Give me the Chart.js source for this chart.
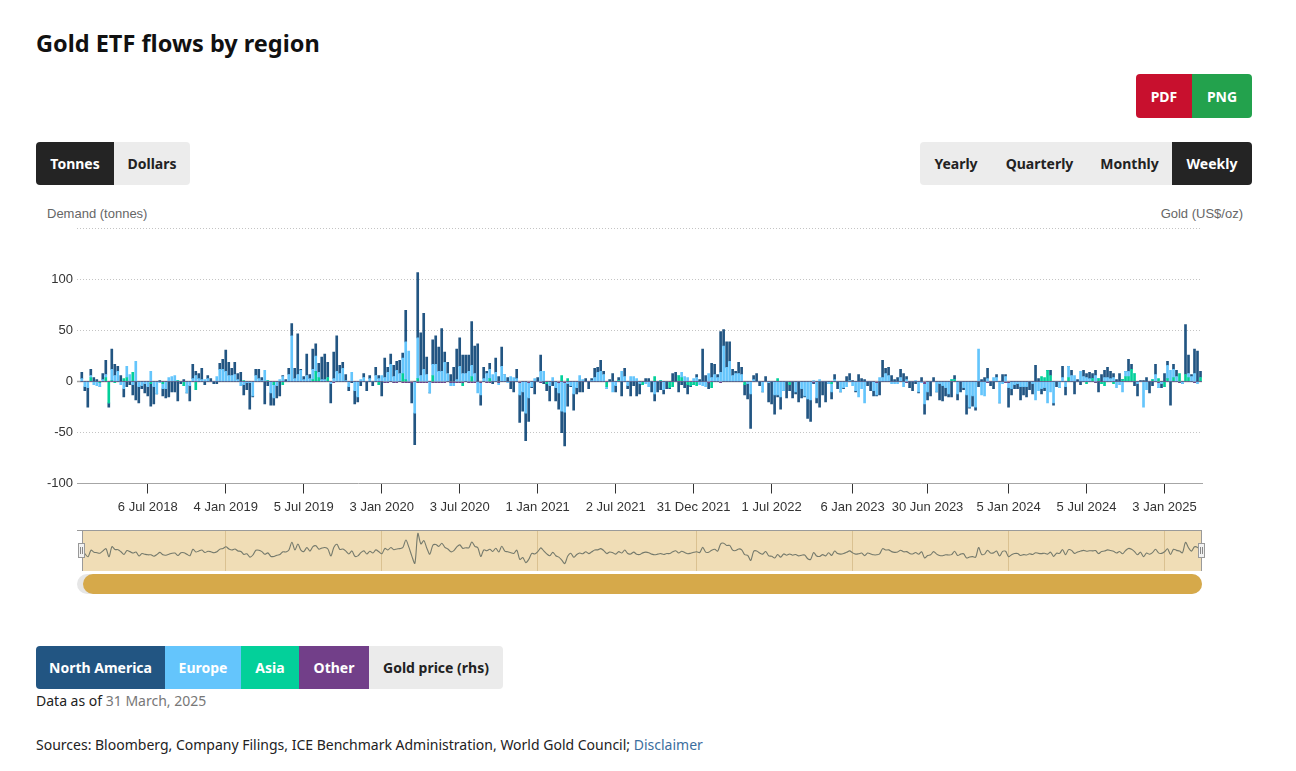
<!DOCTYPE html>
<html>
<head>
<meta charset="utf-8">
<script src="https://cdn.jsdelivr.net/npm/chart.js@4.4.1/dist/chart.umd.min.js"></script>
<style>
  body { margin:0; background:#fff; font-family:"Noto Sans", sans-serif; color:#222; }
  #page { position:relative; width:1296px; height:771px; overflow:hidden; }
  h1 { position:absolute; left:36px; top:26px; margin:0; font-size:23.5px; font-weight:700; color:#111; line-height:34px; }
  .btn { position:absolute; display:flex; align-items:center; justify-content:center; font-size:14px; font-weight:700; box-sizing:border-box; }
  .axt { position:absolute; font-family:"Liberation Sans", Arial, sans-serif; font-size:13px; color:#666; line-height:16px; }
  .txt { position:absolute; font-size:14px; line-height:20px; color:#222; }
  #mainWrap { position:absolute; left:36px; top:217px; width:1216px; height:303px; }
  #navWrap { position:absolute; left:82px; top:531px; width:1120px; height:40px; background:#f0ddb6; }
  #navLine { position:absolute; left:77px; top:530px; width:1125px; height:1px; background:#9a9a9a; }
  #navR { position:absolute; left:1201px; top:530px; width:1px; height:41px; background:#9a9a9a; }
  #navL { position:absolute; left:82px; top:530px; width:1px; height:41px; background:#9a9a9a; }
  .handle { position:absolute; top:543px; width:7px; height:15px; background:#f2f2f2; border:1px solid #999; box-sizing:border-box; }
  .handle::before, .handle::after { content:""; position:absolute; top:3px; width:1px; height:7px; background:#888; }
  .handle::before { left:1px; } .handle::after { left:3px; }
  #track { position:absolute; left:77px; top:574px; width:1125px; height:20px; background:#e6e6e6; border-radius:10px; }
  #thumb { position:absolute; left:83px; top:574px; width:1119px; height:20px; background:#d6a94a; border-radius:10px; }
</style>
</head>
<body>
<div id="page">
  <h1>Gold ETF flows by region</h1>

  <div class="btn" style="left:1136px;top:74px;width:56px;height:44px;background:#c8102e;color:#fff;border-radius:4px 0 0 4px;">PDF</div>
  <div class="btn" style="left:1192px;top:74px;width:60px;height:44px;background:#23a24d;color:#fff;border-radius:0 4px 4px 0;">PNG</div>

  <div class="btn" style="left:36px;top:142px;width:78px;height:43px;background:#242424;color:#fff;border-radius:4px 0 0 4px;">Tonnes</div>
  <div class="btn" style="left:114px;top:142px;width:76px;height:43px;background:#ececec;color:#222;border-radius:0 4px 4px 0;">Dollars</div>

  <div class="btn" style="left:920px;top:142px;width:72px;height:43px;background:#ececec;color:#222;border-radius:4px 0 0 4px;">Yearly</div>
  <div class="btn" style="left:992px;top:142px;width:95px;height:43px;background:#ececec;color:#222;">Quarterly</div>
  <div class="btn" style="left:1087px;top:142px;width:85px;height:43px;background:#ececec;color:#222;">Monthly</div>
  <div class="btn" style="left:1172px;top:142px;width:80px;height:43px;background:#242424;color:#fff;border-radius:0 4px 4px 0;">Weekly</div>

  <div class="axt" style="left:47px;top:206px;">Demand (tonnes)</div>
  <div class="axt" style="right:53px;top:206px;">Gold (US$/oz)</div>

  <div id="mainWrap"><canvas id="main"></canvas></div>

  <div id="navWrap"><canvas id="nav"></canvas></div>
  <div id="navLine"></div><div id="navL"></div><div id="navR"></div>
  <div class="handle" style="left:78px;"></div>
  <div class="handle" style="left:1198px;"></div>
  <div id="track"></div>
  <div id="thumb"></div>

  <div class="btn" style="left:36px;top:646px;width:129px;height:43px;background:#225582;color:#fff;border-radius:4px 0 0 4px;">North America</div>
  <div class="btn" style="left:165px;top:646px;width:76px;height:43px;background:#64c5fc;color:#fff;">Europe</div>
  <div class="btn" style="left:241px;top:646px;width:58px;height:43px;background:#03d09a;color:#fff;">Asia</div>
  <div class="btn" style="left:299px;top:646px;width:70px;height:43px;background:#723f89;color:#fff;">Other</div>
  <div class="btn" style="left:369px;top:646px;width:134px;height:43px;background:#ebebeb;color:#222;border-radius:0 4px 4px 0;">Gold price (rhs)</div>

  <div class="txt" style="left:36px;top:691px;">Data as of <span style="color:#777;">31 March, 2025</span></div>
  <div class="txt" style="left:36px;top:735px;">Sources: Bloomberg, Company Filings, ICE Benchmark Administration, World Gold Council; <span style="color:#3b6e9e;">Disclaimer</span></div>
</div>

<script>
// ---- Data (weekly ETF flows, tonnes), week 0 = 2 Feb 2018, last = 28 Mar 2025 ----
const START_DATE = '2018-02-02';

const northAmerica = [
  6,-4,-19,6,4,2,0,6,14,-4,
  20,11,5,6,-8,-5,-3,-10,-18,-16,
  -3,-9,-9,-22,-17,0,1,-7,-9,-15,
  -10,-10,-19,-2,2,0,-15,14,4,5,
  11,-3,3,3,-2,-2,6,10,21,13,
  7,12,6,9,-10,-7,-26,-1,6,9,
  3,-22,-4,-12,-7,-12,-14,1,2,6,
  12,10,40,1,3,21,4,20,12,9,
  22,25,15,-19,26,35,8,6,6,-4,
  -1,-13,-5,-4,4,-9,3,-4,8,3,
  -14,19,5,10,11,9,13,5,31,0,
  -20,-31,64,42,55,17,0,24,28,24,
  42,10,11,7,14,30,28,18,18,16,
  43,27,37,-10,11,2,6,-2,14,5,
  19,0,4,-7,-10,9,-27,-19,-27,-23,
  -1,-12,4,16,-2,-7,-15,-4,-13,-16,
  -21,-33,-22,-1,-16,-6,-10,-10,3,-7,
  2,9,5,11,3,0,2,8,-6,3,
  -14,8,-3,-14,-4,-14,-10,0,3,3,
  -10,-7,-10,-8,-4,-7,-1,8,9,-10,
  -3,-6,-9,-1,0,3,2,32,6,-6,
  14,10,3,40,16,25,19,6,2,11,
  7,-10,-15,-34,4,8,-4,0,5,-19,
  -22,-19,-2,-12,0,-16,-6,-16,-2,-20,
  -9,-1,-19,-21,-1,-5,-25,-13,-20,0,
  -7,5,-7,0,-1,5,7,1,-1,7,
  3,2,-4,-9,-5,-1,-13,17,5,8,
  6,2,4,8,8,3,-6,-9,-2,-1,
  4,-10,-8,-14,4,0,-16,-15,-8,-3,
  -15,4,-6,-10,-2,-19,-1,-10,-3,-5,
  2,4,10,-4,-7,3,0,7,2,-19,
  -6,-4,-5,-13,-8,-10,-8,-10,16,3,
  -5,-3,0,5,-2,-5,0,11,-8,0,
  5,-12,2,-3,6,4,6,5,5,-10,
  7,7,10,7,4,2,8,0,0,12,
  5,-4,-12,1,1,4,-11,-4,10,0,
  -4,8,4,-23,5,6,0,0,49,18,
  2,24,30,6
];

const europe = [
  3,-5,-6,2,-3,-4,-4,2,3,0,
  11,6,10,-3,-7,11,7,-3,20,-5,
  -4,-2,-5,10,-5,-12,-1,-5,-7,4,
  5,6,0,0,0,-11,-4,3,6,3,
  2,2,3,0,0,5,12,12,10,6,
  6,7,2,-4,-3,-1,-1,-14,6,3,
  1,11,0,-11,-13,-4,2,5,0,7,
  45,3,7,11,2,6,3,10,15,5,
  2,2,0,-2,3,10,8,13,1,-5,
  9,-9,-15,2,4,0,3,0,6,3,
  6,4,9,17,5,11,8,15,37,30,
  0,-31,40,6,12,7,-11,11,17,10,
  10,19,8,-3,-3,2,15,8,8,10,
  11,8,-11,-12,3,8,9,7,9,-2,
  15,7,-1,5,4,3,-12,-10,-31,-15,
  -5,3,0,10,10,0,-4,4,-6,-10,
  -29,-29,-2,-4,-12,-6,6,2,0,0,
  1,4,9,10,7,-2,0,-10,-4,0,
  10,5,-4,5,5,3,-2,0,-2,-5,
  0,-12,0,0,-8,0,0,0,0,0,
  5,5,4,0,3,4,-3,-4,-5,8,
  4,7,4,9,35,14,20,6,8,8,
  7,0,-2,-12,2,0,0,-10,0,-1,
  0,-13,-13,-15,-9,0,0,0,-10,0,
  -7,-14,-17,-18,1,-16,2,0,0,-2,
  -8,2,0,-10,-6,-5,1,-4,-9,-15,
  -7,-21,0,0,-9,-12,4,4,8,6,
  -2,-2,-2,4,-5,2,0,0,1,-10,
  -1,-20,-10,0,0,-10,-2,-4,-6,-12,
  0,0,-12,0,-6,-13,-25,-14,-25,32,
  -13,-14,3,0,4,4,-21,-2,5,-5,
  -7,-3,-2,-5,-5,-5,0,-2,-18,-9,
  -7,-6,-21,-10,-21,0,-6,4,-5,11,
  6,6,0,10,5,4,3,0,6,0,
  0,4,4,3,4,-6,-3,-10,5,5,
  0,0,-2,0,-25,-8,0,0,7,-5,
  -2,0,13,11,8,5,0,-2,0,4,
  5,8,-2,0
];

const asia = [
  0,0,0,4,0,0,-1,0,4,-21,
  1,-1,0,0,3,4,0,9,0,0,
  0,0,0,-2,0,0,0,-2,0,0,
  0,0,1,0,-4,0,0,0,-8,0,
  0,0,0,0,0,0,0,0,0,0,
  0,0,0,0,1,0,0,0,0,0,
  0,0,1,0,-3,0,0,-3,0,0,
  0,0,0,0,0,0,0,2,10,4,
  0,0,4,0,0,0,0,0,0,0,
  0,0,0,0,0,0,0,0,0,-3,
  0,0,0,0,0,0,0,8,2,0,
  0,0,3,0,0,0,0,6,0,0,
  0,0,0,0,0,0,0,-3,0,0,
  5,0,0,0,0,0,3,0,0,0,
  0,0,0,0,0,0,0,0,0,0,
  0,0,0,0,0,-2,0,0,0,0,
  6,0,3,0,0,0,0,0,0,0,
  0,0,0,0,0,-5,0,0,0,1,
  0,0,0,0,0,0,0,-3,0,0,
  0,5,0,1,0,0,-6,-5,0,6,
  4,0,-3,-4,-3,-4,0,0,0,0,
  -6,0,0,0,0,0,0,0,0,0,
  0,-3,0,0,0,0,0,0,0,0,
  0,0,3,0,0,0,-3,0,0,0,
  0,0,0,0,0,0,0,0,0,0,
  -2,0,0,0,0,0,0,0,0,0,
  0,0,0,0,0,0,0,0,0,0,
  0,0,0,0,0,0,0,0,0,0,
  0,0,0,0,0,0,0,0,0,0,
  2,2,0,0,0,0,0,0,0,0,
  0,0,0,0,0,0,0,0,0,0,
  0,0,0,0,0,0,0,0,0,0,
  5,4,11,6,0,0,0,0,0,4,
  0,0,0,0,0,-2,0,3,0,3,
  -2,-4,0,0,-2,0,0,2,5,5,
  12,8,0,0,0,0,0,2,0,3,
  0,-5,3,0,4,0,8,0,7,4,
  0,0,0,4
];

const other = [
  0,0,0,0,0,0,0,0,0,0,
  0,0,0,0,0,0,0,0,0,0,
  0,0,0,0,0,0,0,0,0,0,
  0,0,0,0,0,0,0,0,0,0,
  0,0,0,0,0,0,0,0,0,0,
  0,0,0,0,0,0,0,0,0,0,
  0,0,0,0,0,0,0,0,0,0,
  0,0,0,0,0,0,0,0,0,0,
  0,0,0,0,-1,0,0,0,0,0,
  0,0,0,0,0,0,0,0,0,0,
  0,-1,-1,0,-1,-1,0,-1,-1,-1,
  -1,0,-1,-1,-1,-1,0,-1,-1,-1,
  -1,-1,0,-1,-1,-1,-1,-1,0,-1,
  -1,-1,0,-1,0,-1,-1,0,0,-1,
  0,0,0,0,0,0,-1,0,0,-1,
  0,0,0,-1,0,0,0,0,0,-1,
  0,-1,0,0,0,0,0,0,0,0,
  0,0,0,0,0,0,0,0,0,0,
  0,0,0,0,0,0,0,0,0,0,
  0,0,0,0,0,0,0,0,0,0,
  0,0,0,0,0,0,0,0,0,-1,
  0,0,0,-1,0,0,0,0,0,0,
  0,0,0,0,0,0,0,0,0,0,
  0,0,0,0,0,0,0,0,0,0,
  0,0,0,0,-1,0,0,0,0,0,
  0,0,0,0,0,0,0,0,0,0,
  0,0,0,0,0,-1,0,0,0,0,
  0,0,0,0,0,-1,0,0,0,0,
  0,-2,0,0,0,0,0,0,0,0,
  0,0,0,0,0,0,0,0,0,0,
  0,0,-1,0,0,0,0,0,-1,-1,
  0,0,0,0,0,0,0,0,0,0,
  0,0,0,0,0,0,0,0,0,0,
  0,0,0,0,0,0,0,0,-1,0,
  0,0,0,0,0,0,0,0,0,0,
  0,0,0,0,0,0,0,0,0,-1,
  0,0,0,0,0,0,-1,0,0,0,
  0,-1,0,0
];

// x-axis tick labels and the week index each one sits on
const xTickLabels = ['6 Jul 2018','4 Jan 2019','5 Jul 2019','3 Jan 2020','3 Jul 2020','1 Jan 2021','2 Jul 2021',
  '31 Dec 2021','1 Jul 2022','6 Jan 2023','30 Jun 2023','5 Jan 2024','5 Jul 2024','3 Jan 2025'];
const xTickWeeks = [22,48,74,100,126,152,178,204,230,257,282,309,335,361];
const yTicks = [-100,-50,0,50,100];
const navYearWeeks = [48,100,152,205,257,309,361];

// week categories
const weeks = northAmerica.map((_, i) => {
  const d = new Date(START_DATE + 'T00:00:00Z');
  d.setUTCDate(d.getUTCDate() + 7 * i);
  return d.toISOString().slice(0, 10);
});

const COLORS = { na:'#225582', eu:'#64c5fc', as:'#03d09a', ot:'#723f89' };
const pts = arr => arr.map((v, i) => ({ x: i, y: v }));

Chart.defaults.font.family = '"Liberation Sans", Arial, sans-serif';
Chart.defaults.font.size = 13;
Chart.defaults.color = '#333';

const zeroLine = {
  id: 'zeroLine',
  beforeDatasetsDraw(chart) {
    const { ctx, chartArea: a, scales: { y } } = chart;
    const py = y.getPixelForValue(0);
    ctx.save();
    ctx.strokeStyle = '#a3a3a3';
    ctx.lineWidth = 1.5;
    ctx.beginPath(); ctx.moveTo(a.left, py); ctx.lineTo(a.right, py); ctx.stroke();
    ctx.restore();
  }
};

const barDs = (label, arr, color) => ({
  label, data: pts(arr), backgroundColor: color, borderWidth: 0,
  barThickness: 2, stack: 's'
});

new Chart(document.getElementById('main'), {
  type: 'bar',
  data: {
    datasets: [
      barDs('Other', other, COLORS.ot),
      barDs('Asia', asia, COLORS.as),
      barDs('Europe', europe, COLORS.eu),
      barDs('North America', northAmerica, COLORS.na)
    ]
  },
  options: {
    responsive: true, maintainAspectRatio: false, animation: false,
    layout: { padding: { top: 6, right: 50, left: 0, bottom: 0 } },
    plugins: { legend: { display: false }, tooltip: { callbacks: { title: items => weeks[items[0].parsed.x] } } },
    scales: {
      x: {
        type: 'linear', stacked: true, offset: false,
        min: -1.6, max: 373.5,
        afterBuildTicks: s => { s.ticks = xTickWeeks.map(v => ({ value: v })); },
        afterFit: s => { s.height = 36.5; },
        ticks: {
          autoSkip: false, maxRotation: 0, padding: 6, color: '#333',
          callback: v => xTickLabels[xTickWeeks.indexOf(v)]
        },
        grid: { offset: false, drawOnChartArea: false, drawTicks: true, tickLength: 10, tickColor: '#333', color: '#333' },
        border: { display: true, color: '#a6a6a6', width: 1 }
      },
      y: {
        stacked: true, min: -100, max: 150,
        afterBuildTicks: s => { s.ticks = yTicks.concat([150]).map(v => ({ value: v })); },
        afterFit: s => { s.width = 41; },
        ticks: { padding: 4, color: '#333', callback: v => (v === 150 ? '' : v) },
        grid: {
          drawTicks: false,
          color: c => (c.tick && (c.tick.value === 0 || c.tick.value === -100)) ? 'rgba(0,0,0,0)' : '#c4c4c4'
        },
        border: { display: false, dash: [1, 2] }
      }
    }
  },
  plugins: [zeroLine]
});

// navigator: total weekly flow
const total = northAmerica.map((v, i) => v + europe[i] + asia[i] + other[i]);
new Chart(document.getElementById('nav'), {
  type: 'line',
  data: { datasets: [{ data: pts(total), borderColor: '#757a6c', borderWidth: 1.1, pointRadius: 0, tension: 0.3, fill: false }] },
  options: {
    responsive: true, maintainAspectRatio: false, animation: false,
    layout: { padding: 0 },
    plugins: { legend: { display: false }, tooltip: { enabled: false } },
    scales: {
      x: {
        type: 'linear', min: 0, max: 373.5,
        afterBuildTicks: s => { s.ticks = navYearWeeks.map(v => ({ value: v })); },
        afterFit: s => { s.height = 0; },
        ticks: { display: false },
        grid: { drawTicks: false, color: 'rgba(190,160,100,0.45)' },
        border: { display: false }
      },
      y: { display: false, min: -105, max: 120 }
    }
  }
});
</script>
</body>
</html>
